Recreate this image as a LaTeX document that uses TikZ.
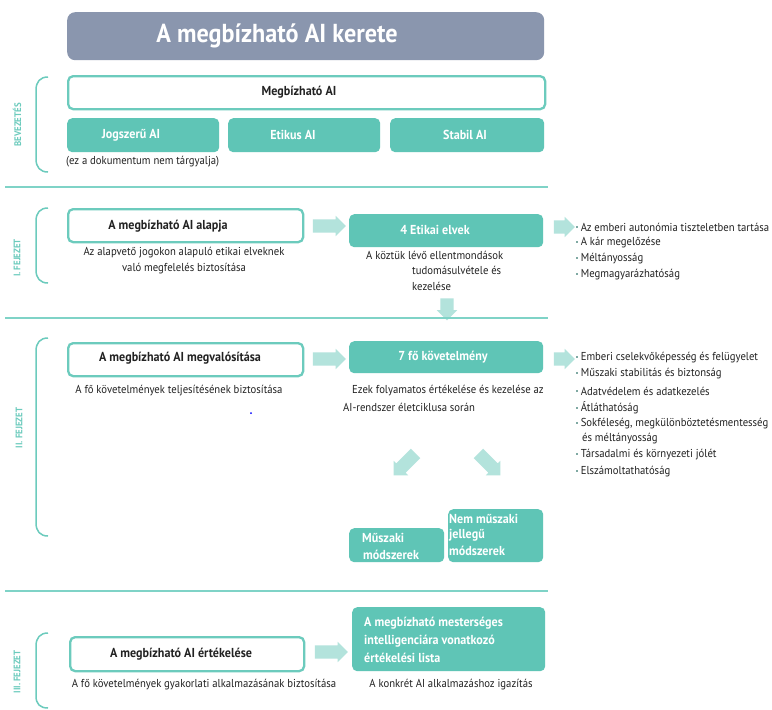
\documentclass[tikz,border=0pt]{standalone}
\usepackage{fontspec}
\setmainfont{PT Sans}[FakeStretch=0.93]
\usetikzlibrary{shapes.arrows}
\definecolor{tealf}{HTML}{5FC5B6}
\definecolor{tealb}{HTML}{6CCBBD}
\definecolor{lt}{HTML}{B3E3DC}
\definecolor{titlec}{HTML}{8A96AE}
\definecolor{txt}{HTML}{222222}
\definecolor{sep}{HTML}{7FD3C7}
\definecolor{bulc}{HTML}{7FA9A3}
\tikzset{
  box/.style={rectangle, rounded corners=5pt, inner sep=0pt, anchor=north west},
  wbox/.style={box, draw=tealb, line width=2.3pt, fill=white},
  tbox/.style={box, fill=tealf},
  btxt/.style={font=\bfseries\fontsize{13}{15}\selectfont, text=txt, inner sep=0pt},
  wtxt/.style={font=\bfseries\fontsize{13}{15}\selectfont, text=white, inner sep=0pt},
  ntxt/.style={font=\fontsize{11.5}{13}\selectfont, text=txt, inner sep=0pt},
  blt/.style={ntxt, anchor=west},
  lab/.style={font=\bfseries\fontsize{9.5}{10}\selectfont, text=tealb, inner sep=0pt, rotate=90},
  brk/.style={draw=tealb, line width=1.5pt},
  sepl/.style={draw=sep, line width=1.2pt},
  blk/.style={single arrow, fill=lt, draw=none, inner xsep=0pt, inner ysep=6.5pt,
    text height=0pt, text depth=0pt, text width=0pt,
    single arrow head extend=3.5pt, single arrow head indent=0pt},
}
\newcommand{\bul}{\textcolor{bulc}{\raisebox{3pt}{\rule{1.6pt}{1.6pt}}}\hspace{3pt}}
\begin{document}
\begin{tikzpicture}[x=1pt,y=-1pt]
\useasboundingbox[fill=white] (0,0) rectangle (772,710);

% title
\node[box, fill=titlec, rounded corners=8pt, minimum width=477pt, minimum height=48pt] (title) at (67,12) {};
\node[font=\bfseries\fontsize{26}{28}\selectfont, text=white, inner sep=0pt] (titlet) at (277,36) {A megbízható AI kerete};

% intro
\draw[brk] (48,77) .. controls (40,77) and (36,82) .. (36,90) -- (36,159) .. controls (36,167) and (40,172) .. (48,172);
\node[lab] (lab0) at (17,125) {BEVEZETÉS};
\node[wbox, minimum width=477pt, minimum height=33pt] (mai) at (67,75) {};
\node[btxt] (mait) at (299,92) {Megbízható AI};
\node[tbox, minimum width=152pt, minimum height=34pt] (jog) at (67,118) {};
\node[tbox, minimum width=152pt, minimum height=34pt] (eti) at (228,118) {};
\node[tbox, minimum width=154pt, minimum height=34pt] (sta) at (390,118) {};
\node[wtxt] (jogt) at (131,135) {Jogszerű AI};
\node[wtxt] (etit) at (293,135) {Etikus AI};
\node[wtxt] (stat) at (465,135) {Stabil AI};
\node[ntxt, anchor=west] (nemt) at (66,162) {(ez a dokumentum nem tárgyalja)};

\draw[sepl] (5,187) -- (548,187);

% chapter I
\draw[brk] (48,208) .. controls (40,208) and (36,213) .. (36,221) -- (36,270) .. controls (36,278) and (40,283) .. (48,283);
\node[lab] (lab1) at (17,258) {I. FEJEZET};
\node[wbox, minimum width=235pt, minimum height=33pt] (alap) at (67,208) {};
\node[btxt] (alapt) at (168,226) {A megbízható AI alapja};
\node[ntxt] (alapd1) at (184,253) {Az alapvető jogokon alapuló etikai elveknek};
\node[ntxt] (alapd2) at (184,269) {való megfelelés biztosítása};
\node[blk, minimum height=33pt] (a1) at (326,226) {};
\node[tbox, minimum width=194pt, minimum height=33pt] (elv) at (349,214) {};
\node[wtxt] (elvt) at (435,230) {4 Etikai elvek};
\node[blt] (elvd1) at (366,255) {A köztük lévő ellentmondások};
\node[blt] (elvd2) at (412,270) {tudomásulvétele és};
\node[blt] (elvd3) at (412,286) {kezelése};
\node[blk, minimum height=22pt, rotate=-90] (d1) at (447,306) {};
\node[blk, minimum height=21pt] (b1) at (561,227) {};
\node[blt] (e1) at (576,227) {\bul Az emberi autonómia tiszteletben tartása};
\node[blt] (e2) at (576,243) {\bul A kár megelőzése};
\node[blt] (e3) at (576,259) {\bul Méltányosság};
\node[blt] (e4) at (576,275) {\bul Megmagyarázhatóság};

\draw[sepl] (5,318) -- (548,318);

% chapter II
\draw[brk] (48,338) .. controls (40,338) and (36,343) .. (36,351) -- (36,523) .. controls (36,531) and (40,536) .. (48,536);
\node[lab] (lab2) at (19,428) {II. FEJEZET};
\node[wbox, minimum width=235pt, minimum height=33pt] (megv) at (67,342) {};
\node[btxt] (megvt) at (180,358) {A megbízható AI megvalósítása};
\node[ntxt] (megvd) at (179,391) {A fő követelmények teljesítésének biztosítása};
\fill[blue] (251,413) circle (1pt);
\node[blk, minimum height=33pt] (a2) at (326,359) {};
\node[tbox, minimum width=194pt, minimum height=32pt] (kov) at (349,341) {};
\node[wtxt] (kovt) at (443,357) {7 fő követelmény};
\node[blt] (kovd1) at (352,391) {Ezek folyamatos értékelése és kezelése az};
\node[blt] (kovd2) at (343,407) {AI-rendszer életciklusa során};
\node[blk, minimum height=21pt] (b2) at (561,359) {};
\node[blt] (k1) at (576,358) {\bul Emberi cselekvőképesség és felügyelet};
\node[blt] (k2) at (576,374) {\bul Műszaki stabilitás és biztonság};
\node[blt] (k3) at (576,391) {\bul Adatvédelem és adatkezelés};
\node[blt] (k4) at (576,408) {\bul Átláthatóság};
\node[blt] (k5) at (576,424) {\bul Sokféleség, megkülönböztetésmentesség};
\node[blt] (k5b) at (582,439) {és méltányosság};
\node[blt] (k6) at (576,455) {\bul Társadalmi és környezeti jólét};
\node[blt] (k7) at (576,472) {\bul Elszámoltathatóság};
\node[blk, minimum height=31pt, rotate=-135] (dl) at (407,462) {};
\node[blk, minimum height=31pt, rotate=-45] (dr) at (487,462) {};
\node[tbox, minimum width=95pt, minimum height=34pt] (musz) at (349,528) {};
\node[wtxt, anchor=west] (muszt1) at (362,538) {Műszaki};
\node[wtxt, anchor=west] (muszt2) at (363,555) {módszerek};
\node[tbox, minimum width=95pt, minimum height=53pt] (nem) at (448,509) {};
\node[wtxt, anchor=west] (nemt1) at (449,519) {Nem műszaki};
\node[wtxt, anchor=west] (nemt2) at (449,535) {jellegű};
\node[wtxt, anchor=west] (nemt3) at (449,551) {módszerek};

\draw[sepl] (5,591) -- (548,591);

% chapter III
\draw[brk] (48,633) .. controls (40,633) and (36,638) .. (36,646) -- (36,696) .. controls (36,704) and (40,708) .. (48,708);
\node[lab] (lab3) at (17,672) {III. FEJEZET};
\node[wbox, minimum width=234pt, minimum height=34pt] (ert) at (69,636) {};
\node[btxt] (ertt) at (181,654) {A megbízható AI értékelése};
\node[blk, minimum height=33pt] (a3) at (328,652) {};
\node[tbox, minimum width=193pt, minimum height=64pt] (lista) at (352,607) {};
\node[wtxt, anchor=west] (lt1) at (364,623) {A megbízható mesterséges};
\node[wtxt, anchor=west] (lt2) at (364,641) {intelligenciára vonatkozó};
\node[wtxt, anchor=west] (lt3) at (364,658) {értékelési lista};
\node[ntxt] (ertd) at (204,685) {A fő követelmények gyakorlati alkalmazásának biztosítása};
\node[ntxt] (listad) at (451,685) {A konkrét AI alkalmazáshoz igazítás};
\end{tikzpicture}
\end{document}
